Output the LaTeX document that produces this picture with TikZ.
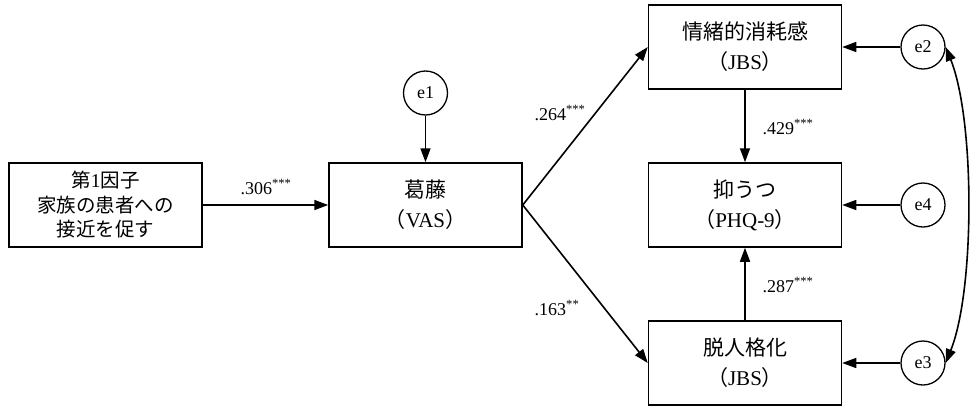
\documentclass[tikz,border=0pt]{standalone}
\usepackage{fontspec}
\setmainfont{Liberation Serif}
\newfontfamily\jp{Noto Sans CJK JP}
\usetikzlibrary{arrows.meta}
\begin{document}
\begin{tikzpicture}[x=1pt,y=-1pt,
  box/.style={draw,line width=1.5pt,minimum width=193pt,minimum height=84pt,inner sep=0pt,align=center,font=\fontsize{21}{30}\selectfont},
  err/.style={draw,circle,line width=1.3pt,minimum size=44pt,inner sep=0pt,font=\fontsize{18}{20}\selectfont},
  arr/.style={line width=1.6pt,-{Triangle[length=14pt,width=10pt]}},
  coef/.style={font=\fontsize{18}{20}\selectfont,inner sep=0pt}]
\useasboundingbox (0,0) rectangle (970,405);
\node[box,font=\fontsize{19.5}{24.5}\selectfont] (f1) at (105.5,205) {{\jp 第}1{\jp 因子}\\{\jp 家族の患者への}\\{\jp 接近を促す}};
\node[box] (vas) at (425.5,205) {{\jp 葛藤}\\{\jp （}VAS{\jp ）}};
\node[box] (emo) at (745,47) {{\jp 情緒的消耗感}\\{\jp （}JBS{\jp ）}};
\node[box] (phq) at (745,205) {{\jp 抑うつ}\\{\jp （}PHQ-9{\jp ）}};
\node[box] (dep) at (745,363) {{\jp 脱人格化}\\{\jp （}JBS{\jp ）}};
\node[err] (e1) at (425.5,93) {e1};
\node[err] (e2) at (923,47) {e2};
\node[err] (e4) at (923,205) {e4};
\node[err] (e3) at (923,363) {e3};
\draw[arr] (f1.east) -- (vas.west);
\draw[arr] (e1) -- (vas.north);
\draw[arr] (vas.east) -- (emo.west);
\draw[arr] (vas.east) -- (dep.west);
\draw[arr] (emo.south) -- (phq.north);
\draw[arr] (dep.north) -- (phq.south);
\draw[arr] (e2) -- (emo.east);
\draw[arr] (e4) -- (phq.east);
\draw[arr] (e3) -- (dep.east);
\draw[line width=1.6pt,{Triangle[length=14pt,width=10pt]}-{Triangle[length=14pt,width=10pt]}] (e2.east) .. controls (975,120) and (975,290) .. (e3.east);
\node[coef] (c1) at (266,187) {.306\textsuperscript{***}};
\node[coef] (c2) at (560,113) {.264\textsuperscript{***}};
\node[coef] (c3) at (557,308) {.163\textsuperscript{**}};
\node[coef] (c4) at (788,127) {.429\textsuperscript{***}};
\node[coef] (c5) at (788,285) {.287\textsuperscript{***}};
\end{tikzpicture}
\end{document}
